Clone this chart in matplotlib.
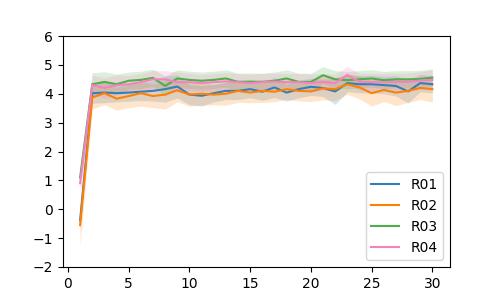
import matplotlib
matplotlib.use("Agg")
import matplotlib.pyplot as plt
import numpy as np

x = list(range(1, 31))
labels = ["R01", "R02", "R03", "R04"]
colors = ["#377eb8", "#ff7f00", "#4daf4a", "#f781bf"]

r01 = [-0.38, 4.02, 4.04, 4.02, 4.04, 4.07, 4.10, 4.16, 4.25, 3.97,
       3.93, 4.02, 4.10, 4.10, 4.16, 4.07, 4.22, 4.04, 4.16, 4.24,
       4.20, 4.08, 4.37, 4.33, 4.33, 4.30, 4.27, 4.08, 4.37, 4.33]
r02 = [-0.55, 3.87, 4.02, 3.83, 3.92, 4.02, 3.92, 3.97, 4.12, 3.97,
       4.00, 3.97, 4.00, 4.10, 4.04, 4.10, 4.07, 4.16, 4.10, 4.08,
       4.19, 4.16, 4.33, 4.22, 4.02, 4.13, 4.04, 4.10, 4.20, 4.16]
r03 = [1.10, 4.33, 4.41, 4.33, 4.45, 4.48, 4.55, 4.27, 4.53, 4.48,
       4.45, 4.48, 4.53, 4.41, 4.42, 4.41, 4.45, 4.53, 4.41, 4.41,
       4.64, 4.50, 4.47, 4.50, 4.53, 4.47, 4.50, 4.50, 4.51, 4.56]
r04 = [0.90, 4.30, 4.20, 4.30, 4.33, 4.40, 4.50, 4.50, 4.40, 4.40,
       4.37, 4.40, 4.43, 4.40, 4.37, 4.40, 4.42, 4.40, 4.40, 4.37,
       4.41, 4.37, 4.65, 4.41, 4.40, 4.40, 4.41, 4.41, 4.46, 4.48]

s01 = [0.35, 0.35, 0.35, 0.30, 0.30, 0.30, 0.35, 0.45, 0.40, 0.35,
       0.35, 0.30, 0.30, 0.30, 0.30, 0.30, 0.35, 0.30, 0.30, 0.30,
       0.30, 0.45, 0.30, 0.30, 0.30, 0.30, 0.35, 0.40, 0.30, 0.30]
s02 = [0.70, 0.40, 0.40, 0.40, 0.40, 0.45, 0.40, 0.50, 0.40, 0.40,
       0.40, 0.35, 0.40, 0.40, 0.35, 0.40, 0.35, 0.35, 0.35, 0.35,
       0.40, 0.40, 0.35, 0.40, 0.45, 0.40, 0.45, 0.40, 0.40, 0.45]
s03 = [0.40, 0.40, 0.35, 0.35, 0.30, 0.30, 0.30, 0.35, 0.30, 0.30,
       0.30, 0.30, 0.30, 0.30, 0.30, 0.30, 0.30, 0.30, 0.30, 0.30,
       0.30, 0.30, 0.30, 0.30, 0.30, 0.30, 0.30, 0.30, 0.30, 0.30]
s04 = [0.40, 0.35, 0.35, 0.35, 0.30, 0.30, 0.30, 0.30, 0.35, 0.30,
       0.30, 0.30, 0.30, 0.30, 0.30, 0.30, 0.30, 0.30, 0.30, 0.30,
       0.30, 0.30, 0.30, 0.30, 0.30, 0.30, 0.30, 0.30, 0.30, 0.35]

series = [r01, r02, r03, r04]
spreads = [s01, s02, s03, s04]

fig, ax = plt.subplots(figsize=(5, 3), dpi=100)
for lab, col, ys, sp in zip(labels, colors, series, spreads):
    ys = np.array(ys); sp = np.array(sp)
    ax.fill_between(x, ys - sp, ys + sp, color=col, alpha=0.2, linewidth=0)
    ax.plot(x, ys, color=col, linewidth=1.5, label=lab)

ax.set_ylim(-2, 6)
ax.set_yticks([-2, -1, 0, 1, 2, 3, 4, 5, 6])
ax.legend(loc="lower right")
fig.savefig("out.png", dpi=100)
